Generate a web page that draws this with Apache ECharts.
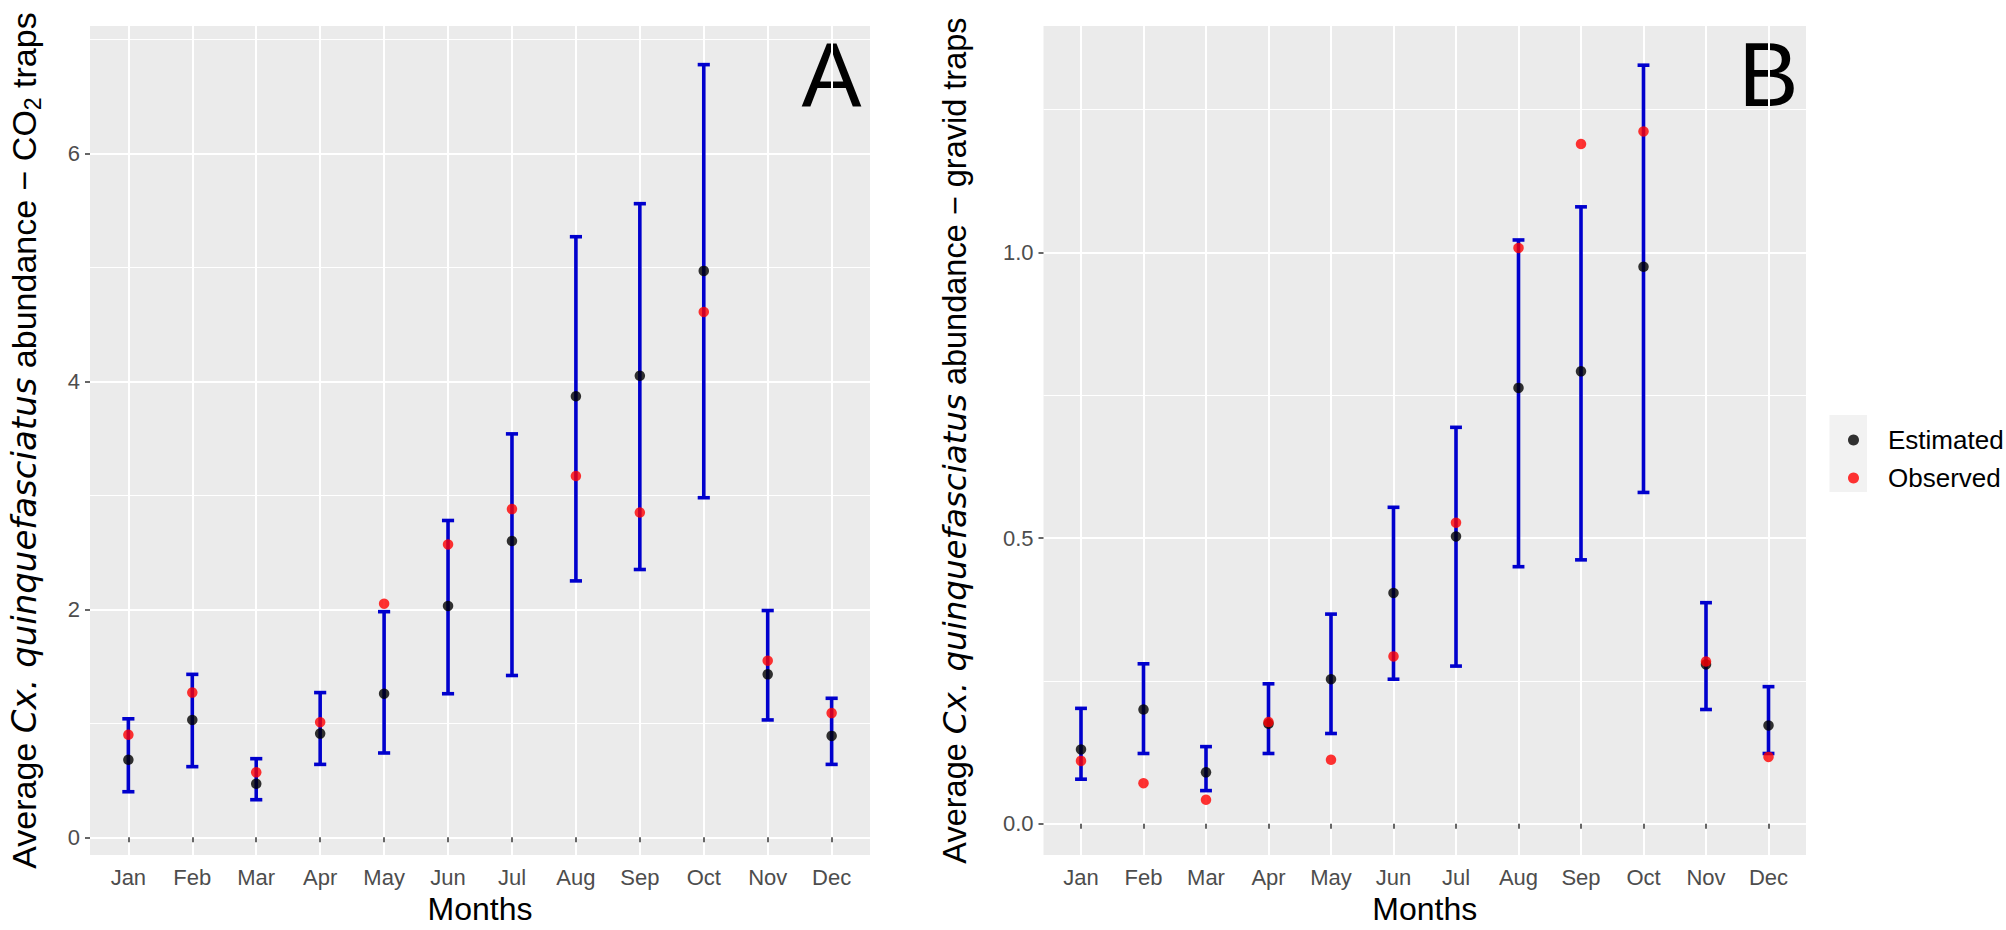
<!DOCTYPE html>
<html>
<head>
<meta charset="utf-8">
<script src="https://cdn.jsdelivr.net/npm/echarts@6/dist/echarts.min.js"></script>
<style>
html,body{margin:0;padding:0;background:#ffffff;}
#chart{width:2006px;height:930px;}
</style>
</head>
<body>
<div id="chart"></div>
<script>
// ---------------- data ----------------
const months = ['Jan','Feb','Mar','Apr','May','Jun','Jul','Aug','Sep','Oct','Nov','Dec'];

// Panel A: CO2 traps
const co2Estimated = [0.68, 1.03, 0.47, 0.91, 1.26, 2.03, 2.60, 3.87, 4.05, 4.97, 1.43, 0.89];
const co2Observed  = [0.90, 1.27, 0.57, 1.01, 2.05, 2.57, 2.88, 3.17, 2.85, 4.61, 1.55, 1.09];
const co2Lower     = [0.40, 0.62, 0.33, 0.64, 0.74, 1.26, 1.42, 2.25, 2.35, 2.98, 1.03, 0.64];
const co2Upper     = [1.04, 1.43, 0.69, 1.27, 1.98, 2.78, 3.54, 5.27, 5.56, 6.78, 1.99, 1.22];

// Panel B: gravid traps
const gravidEstimated = [0.130, 0.200, 0.090, 0.175, 0.253, 0.404, 0.503, 0.763, 0.792, 0.975, 0.279, 0.172];
const gravidObserved  = [0.110, 0.071, 0.042, 0.178, 0.112, 0.293, 0.527, 1.008, 1.190, 1.212, 0.284, 0.117];
const gravidLower     = [0.078, 0.123, 0.058, 0.123, 0.158, 0.253, 0.276, 0.450, 0.462, 0.580, 0.200, 0.123];
const gravidUpper     = [0.202, 0.280, 0.135, 0.245, 0.367, 0.554, 0.694, 1.022, 1.080, 1.328, 0.387, 0.240];

const co2TickValues = [0, 2, 4, 6];
const gravidTickValues = [0, 0.5, 1.0];
const seriesNames = ['Estimated', 'Observed'];
const panelLabels = ['A', 'B'];

// ---------------- layout / style ----------------
const FONT = "'Liberation Sans', Arial, Helvetica, sans-serif";
const ITALIC_FONT = "'DejaVu Sans', 'Liberation Sans', Arial, sans-serif";
const GRID_A = {left: 90, top: 26, width: 780, height: 841};
const GRID_B = {left: 1043.5, top: 26, width: 762.5, height: 841};
const X_RANGE = [0.4, 12.6];
const Y_RANGE_A = [-0.156, 7.119];
const Y_RANGE_B = [-0.0549, 1.3966];
const CAP_WIDTH = 0.19;          // in month units
const BAR_COLOR = '#0000CD';
const BAR_WIDTH = 3.6;
const POINT_SIZE = 10.5;
const monthIndex = months.map((m, i) => i + 1);

function errorBarData(lo, hi) { return months.map((m, i) => [i + 1, lo[i], hi[i]]); }
function pointData(vals) { return months.map((m, i) => [i + 1, vals[i]]); }

function renderErrorBar(params, api) {
  const x = api.value(0);
  const pLo = api.coord([x, api.value(1)]);
  const pHi = api.coord([x, api.value(2)]);
  const half = api.size([CAP_WIDTH, 0])[0] / 2;
  const style = {stroke: BAR_COLOR, lineWidth: BAR_WIDTH, fill: null, lineCap: 'butt'};
  return {
    type: 'group',
    children: [
      {type: 'line', shape: {x1: pLo[0], y1: pLo[1], x2: pHi[0], y2: pHi[1]}, style: style},
      {type: 'line', shape: {x1: pHi[0] - half, y1: pHi[1], x2: pHi[0] + half, y2: pHi[1]}, style: style},
      {type: 'line', shape: {x1: pLo[0] - half, y1: pLo[1], x2: pLo[0] + half, y2: pLo[1]}, style: style}
    ]
  };
}

function xAxisCfg(gridIndex) {
  return {
    type: 'value', gridIndex: gridIndex,
    min: X_RANGE[0], max: X_RANGE[1], splitNumber: 12, minInterval: 1, maxInterval: 1,
    axisLine: {show: false},
    axisTick: {show: true, length: 5, lineStyle: {color: '#333333', width: 1.5}, customValues: monthIndex},
    axisLabel: {
      customValues: monthIndex,
      formatter: function (v) {
        const k = Math.round(v);
        return (Math.abs(v - k) < 1e-6 && k >= 1 && k <= 12) ? months[k - 1] : '';
      },
      color: '#4D4D4D', fontSize: 22, fontFamily: FONT, margin: 11
    },
    splitLine: {show: true, lineStyle: {color: '#FFFFFF', width: 2}},
    name: 'Months', nameLocation: 'middle', nameGap: 36,
    nameTextStyle: {fontSize: 32, color: '#000000', fontFamily: FONT}
  };
}

function richName(fs) {
  return {
    n: {fontSize: fs, fontFamily: FONT, color: '#000', lineHeight: 40},
    i: {fontSize: fs, fontFamily: ITALIC_FONT, color: '#000', fontStyle: 'italic', lineHeight: 40},
    s: {fontSize: Math.round(fs * 0.68), fontFamily: FONT, color: '#000', lineHeight: 16, verticalAlign: 'bottom'}
  };
}

function yAxisCfg(gridIndex, range, step, ticks, decimals, name, gap, fs) {
  return {
    type: 'value', gridIndex: gridIndex,
    min: range[0], max: range[1], splitNumber: 4, minInterval: step, maxInterval: step,
    axisLine: {show: false},
    axisTick: {show: true, length: 5, lineStyle: {color: '#333333', width: 1.5}, customValues: ticks},
    axisLabel: {
      customValues: ticks,
      formatter: function (v) {
        const k = Math.round(v / step);
        return Math.abs(v / step - k) < 1e-6 ? (k * step).toFixed(decimals) : '';
      },
      color: '#4D4D4D', fontSize: 22, fontFamily: FONT, margin: 10
    },
    splitLine: {show: true, lineStyle: {color: '#FFFFFF', width: 2}},
    minorTick: {show: false, splitNumber: 2},
    minorSplitLine: {show: true, lineStyle: {color: '#FFFFFF', width: 1}},
    name: name, nameLocation: 'middle', nameGap: gap, nameRotate: 90,
    nameTextStyle: {fontSize: fs, fontFamily: FONT, color: '#000', rich: richName(fs)}
  };
}

const chart = echarts.init(document.getElementById('chart'), null, {renderer: 'svg', width: 2006, height: 930});

const option = {
  backgroundColor: '#FFFFFF',
  animation: false,
  grid: [
    Object.assign({show: true, backgroundColor: '#EBEBEB', borderWidth: 0, containLabel: false}, GRID_A),
    Object.assign({show: true, backgroundColor: '#EBEBEB', borderWidth: 0, containLabel: false}, GRID_B)
  ],
  xAxis: [xAxisCfg(0), xAxisCfg(1)],
  yAxis: [
    yAxisCfg(0, Y_RANGE_A, 2, co2TickValues, 0,
      '{n|Average }{i|Cx. quinquefasciatus}{n| abundance \u2212 CO}{s|2}{n| traps}', 46, 34),
    yAxisCfg(1, Y_RANGE_B, 0.5, gravidTickValues, 1,
      '{n|Average }{i|Cx. quinquefasciatus}{n| abundance \u2212 gravid traps}', 69, 32.5)
  ],
  legend: {
    orient: 'vertical', left: 1843, top: 422,
    itemWidth: 11, itemHeight: 11, itemGap: 12, icon: 'circle',
    data: seriesNames,
    textStyle: {fontSize: 26, color: '#000', fontFamily: FONT, padding: [0, 0, 0, 24]},
    selectedMode: false
  },
  graphic: [
    {type: 'rect', z: -1, shape: {x: 1829.5, y: 415, width: 37.5, height: 77}, style: {fill: '#F2F2F2'}},
    {type: 'text', x: 831.6, y: 75, style: {text: panelLabels[0], fontSize: 90, fontFamily: FONT, fill: '#000', align: 'center', verticalAlign: 'middle'}},
    {type: 'text', x: 1768.5, y: 75, style: {text: panelLabels[1], fontSize: 90, fontFamily: FONT, fill: '#000', align: 'center', verticalAlign: 'middle'}}
  ],
  series: [
    {type: 'custom', name: 'CO2 interval', xAxisIndex: 0, yAxisIndex: 0, renderItem: renderErrorBar,
     encode: {x: 0, y: [1, 2]}, data: errorBarData(co2Lower, co2Upper), z: 2, silent: true},
    {type: 'custom', name: 'Gravid interval', xAxisIndex: 1, yAxisIndex: 1, renderItem: renderErrorBar,
     encode: {x: 0, y: [1, 2]}, data: errorBarData(gravidLower, gravidUpper), z: 2, silent: true},
    {type: 'scatter', name: seriesNames[0], xAxisIndex: 0, yAxisIndex: 0, symbol: 'circle', symbolSize: POINT_SIZE,
     itemStyle: {color: '#000000'}, data: pointData(co2Estimated), z: 3},
    {type: 'scatter', name: seriesNames[0], xAxisIndex: 1, yAxisIndex: 1, symbol: 'circle', symbolSize: POINT_SIZE,
     itemStyle: {color: '#000000'}, data: pointData(gravidEstimated), z: 3},
    {type: 'scatter', name: seriesNames[1], xAxisIndex: 0, yAxisIndex: 0, symbol: 'circle', symbolSize: POINT_SIZE,
     itemStyle: {color: '#FF0000'}, data: pointData(co2Observed), z: 4},
    {type: 'scatter', name: seriesNames[1], xAxisIndex: 1, yAxisIndex: 1, symbol: 'circle', symbolSize: POINT_SIZE,
     itemStyle: {color: '#FF0000'}, data: pointData(gravidObserved), z: 4}
  ]
};
chart.setOption(option);
</script>
</body>
</html>
